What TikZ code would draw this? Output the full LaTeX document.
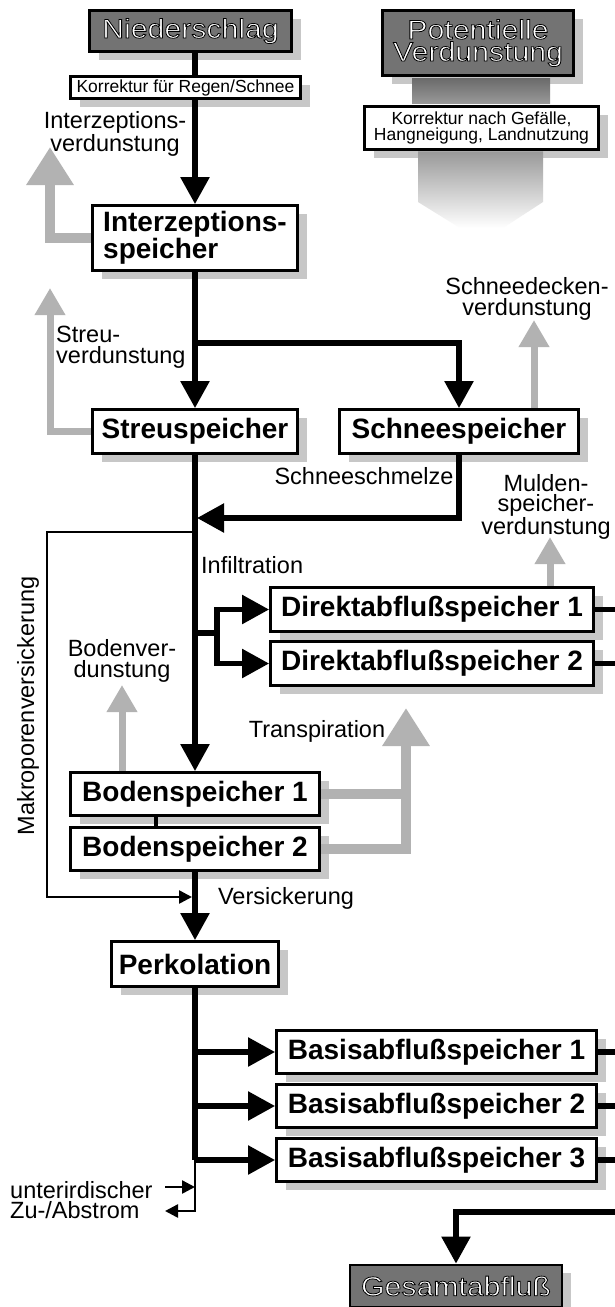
\documentclass[tikz,border=0pt]{standalone}
\usepackage{fontspec}
\setmainfont{Liberation Sans}
\newfontfamily\widefont[FakeStretch=1.12]{Liberation Sans}
\newcommand\outl[1]{\special{pdf:literal direct 2 Tr 0.8 w 0 G}#1\special{pdf:literal direct 0 Tr}}
\usetikzlibrary{arrows.meta,shadows}
\tikzset{
	box/.style={draw,line width=2.8pt,fill=white,inner sep=0pt,align=center,
		general shadow={fill=black!22,shadow xshift=9pt,shadow yshift=-8pt},
		font=\fontsize{28}{21}\selectfont\bfseries},
	kbox/.style={box,font=\fontsize{17.5}{15.5}\selectfont},
	tbox/.style={box,fill=black!55,text=white,font=\widefont\fontsize{27}{22}\selectfont},
	lbl/.style={inner sep=0pt,align=center,font=\fontsize{23.5}{20.5}\selectfont},
	trunk/.style={line width=5.5pt},
	flow/.style={trunk,-{Triangle[length=27pt,width=28pt]}},
	vap/.style={line width=7pt,draw=black!30,-{Triangle[length=27pt,width=29pt]}},
	vapbig/.style={vap,line width=10pt,-{Triangle[length=38pt,width=45pt]}},
	seep/.style={line width=2.5pt,-{Triangle[length=13pt,width=13pt]}}
}
\begin{document}
\begin{tikzpicture}[x=1pt,y=-1pt]
	\fill[white] (0,0) rectangle (615,1307);
	\useasboundingbox (0,0) rectangle (615,1307);
	% Eingaenge
	\node[tbox,minimum width=202pt,minimum height=41pt] (nied) at (190.5,31) {\outl{Niederschlag}};
	\node[tbox,minimum width=191pt,minimum height=65pt] (potv) at (478,43) {\outl{Potentielle}\\\outl{Verdunstung}};
	\node[kbox,minimum width=230pt,minimum height=22pt] (korr1) at (185.5,87.5) {Korrektur für Regen/Schnee};
	\node[kbox,minimum width=234pt,minimum height=43pt] (korr2) at (481.5,128) {Korrektur nach Gefälle,\\Hangneigung, Landnutzung};
	\shade[top color=black!58,bottom color=black!40] (412,78.6) rectangle (550,103.6);
	\shade[top color=black!40,bottom color=white] (418,151.4) -- (543,151.4) -- (543,202) -- (503,228) -- (460,228) -- (418,202) -- cycle;
	% Speicher
	\node[box,align=left,minimum width=205pt,minimum height=65pt] (interz) at (195,238) {Interzeptions-\\speicher};
	\node[box,minimum width=205pt,minimum height=44pt] (streu) at (195,431.5) {Streuspeicher};
	\node[box,minimum width=239pt,minimum height=44pt] (schnee) at (459,431.5) {Schneespeicher};
	\node[box,minimum width=323pt,minimum height=44pt] (da1) at (432,609.5) {Direktabflußspeicher 1};
	\node[box,minimum width=323pt,minimum height=44pt] (da2) at (432,663.5) {Direktabflußspeicher 2};
	\node[box,minimum width=249pt,minimum height=43pt] (bs1) at (195,794) {Bodenspeicher 1};
	\node[box,minimum width=249pt,minimum height=43pt] (bs2) at (195,849) {Bodenspeicher 2};
	\node[box,minimum width=167pt,minimum height=45pt] (perk) at (195,964) {Perkolation};
	\node[tbox,minimum width=212pt,minimum height=42pt] (gesamt) at (456,1286) {\outl{Gesamtabfluß}};
	% Fluesse
	\draw[trunk] (nied.south -| interz) -- (korr1.north -| interz);
	\draw[flow] (korr1.south -| interz) -- (interz);
	\draw[flow] (interz) -- (streu);
	\coordinate (split) at (195,343);
	\draw[flow] (split) -| (schnee);
	\coordinate (ivtip) at (50,147);
	\draw[vapbig] (interz.west) -| (ivtip);
	\coordinate (svtip) at (50,288);
	\draw[vap] (streu.west) -| (svtip);
	\coordinate (sdtip) at (534,320);
	\draw[vap] (schnee.north -| sdtip) -- (sdtip);
	\coordinate (melt) at (197,518);
	\draw[flow] (schnee) |- (melt);
	\draw[flow] (streu) -- (bs1);
	\coordinate (mp) at (195,532);
	\coordinate (mpend) at (192,897);
	\draw[seep] (mp) -- ++(-148,0) |- (mpend);
	\coordinate (infl) at (195,633);
	\draw[trunk] (infl) -- ++(22,0) coordinate (dasplit);
	\draw[flow] (dasplit) |- (da1);
	\draw[flow] (dasplit) |- (da2);
	\coordinate (mvtip) at (550,537);
	\draw[vap] (da1.north -| mvtip) -- (mvtip);
	\foreach \n in {da1,da2}
	\draw[trunk] (\n.east) -- ++(30,0);
	\coordinate (bvtip) at (122,685);
	\draw[vap] (bs1.north -| bvtip) -- (bvtip);
	\draw[line width=4pt] ([xshift=-39pt]bs1.south) -- ([xshift=-39pt]bs2.north);
	\coordinate (trtip) at (406,708);
	\draw[vapbig,-] (bs2.east) -| (bs1.east -| trtip);
	\draw[vapbig] (bs1.east) -| (trtip);
	\draw[flow] (bs2.south) -- (bs2.south |- perk.north);
	\foreach \i/\y in {1/1052,2/1106,3/1160}{
		\node[box,minimum width=320pt,minimum height=43pt] (ba\i) at (436.5,\y) {Basisabflußspeicher \i};
		\draw[flow] (perk |- ba\i) -- (ba\i);
		\draw[trunk] (ba\i.east) -- ++(30,0);
	}
	\draw[trunk] (perk) -- (perk |- ba3);
	\coordinate (ui) at (195,1211);
	\draw[seep] (perk |- ba3) -- (ui) -- ++(-30,0);
	\coordinate (uin) at (165,1187);
	\draw[seep] (uin) -- (uin -| ui);
	\coordinate (gin) at (625,1212);
	\draw[flow] (gin) -| (gesamt);
	% Beschriftungen
	\node[lbl] (ivlab) at (115,134) {Interzeptions-\\verdunstung};
	\node[lbl,align=left,anchor=west] (svlab) at (56,347) {Streu-\\verdunstung};
	\node[lbl] (sdlab) at (527,299) {Schneedecken-\\verdunstung};
	\node[lbl] (smlab) at (364,476) {Schneeschmelze};
	\node[lbl] (mvlab) at (546,507) {Mulden-\\speicher-\\verdunstung};
	\node[lbl,anchor=west] (inflab) at (201,565) {Infiltration};
	\node[lbl] (bvlab) at (122,661) {Bodenver-\\dunstung};
	\node[lbl] (trlab) at (317,731) {Transpiration};
	\node[lbl,rotate=90] (mplab) at (28,706) {Makroporenversickerung};
	\node[lbl] (vslab) at (286,898) {Versickerung};
	\node[lbl,align=left,anchor=west] (uilab) at (10,1200) {unterirdischer\\Zu-/Abstrom};
\end{tikzpicture}
\end{document}
